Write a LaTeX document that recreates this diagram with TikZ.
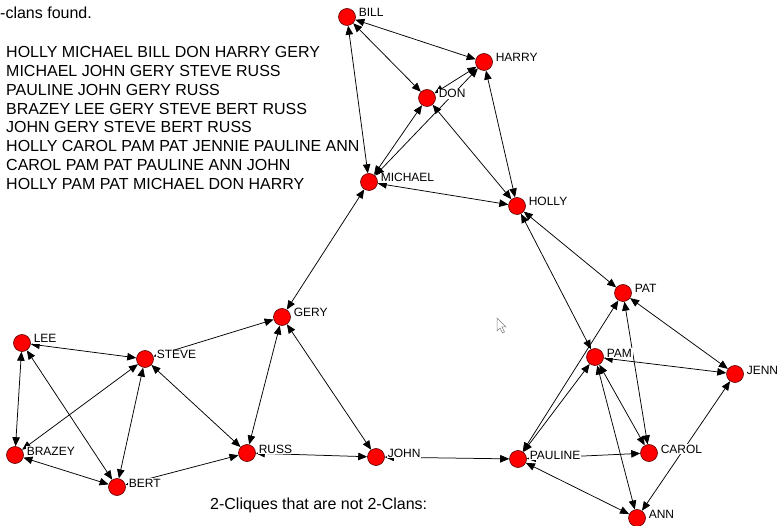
\documentclass[tikz,border=0pt]{standalone}
\usepackage{fontspec}
\setmainfont{Liberation Sans}
\usetikzlibrary{arrows.meta,positioning}
\pgfdeclarelayer{bg}
\pgfsetlayers{bg,main}

\tikzset{
  actor/.style={circle, draw=red!35!black, fill=red, minimum size=17pt, inner sep=0pt, line width=0.6pt},
  lbl/.style={fill=white, inner sep=0.8pt, anchor=base west, xshift=2pt, font=\fontsize{12}{14}\selectfont},
  tie/.style={<->, line width=0.75pt},
  txt/.style={inner sep=0pt, anchor=base west, font=\fontsize{16}{19}\selectfont},
}

\begin{document}
\begin{tikzpicture}[x=1pt, y=-1pt, >={Triangle[length=9pt,width=7.5pt]}]
  \useasboundingbox (0,0) rectangle (784,526);

  % texts
  \node[txt] (found) at (0,18.5) {-clans found.};
  \foreach \line [count=\i] in {HOLLY MICHAEL BILL DON HARRY GERY,
      MICHAEL JOHN GERY STEVE RUSS,
      PAULINE JOHN GERY RUSS,
      BRAZEY LEE GERY STEVE BERT RUSS,
      JOHN GERY STEVE BERT RUSS,
      HOLLY CAROL PAM PAT JENNIE PAULINE ANN,
      CAROL PAM PAT PAULINE ANN JOHN,
      HOLLY PAM PAT MICHAEL DON HARRY}
    \node[txt] (clan\i) at (6,{39+18.8*\i}) {\line};
  \node[txt] (notclans) at (210,509.5) {2-Cliques that are not 2-Clans:};

  % actors
  \node[actor, label={[lbl]0:BILL}] (bill) at (347,17) {};
  \node[actor, label={[lbl]0:HARRY}] (harry) at (484,62) {};
  \node[actor, label={[lbl]0:DON}] (don) at (427,98) {};
  \node[actor, label={[lbl]0:MICHAEL}] (michael) at (369,182) {};
  \node[actor, label={[lbl]0:HOLLY}] (holly) at (517,206) {};
  \node[actor, label={[lbl]0:GERY}] (gery) at (282,317) {};
  \node[actor, label={[lbl]0:LEE}] (lee) at (22,343) {};
  \node[actor, label={[lbl]0:STEVE}] (steve) at (145,359) {};
  \node[actor, label={[lbl]0:BRAZEY}] (brazey) at (15,455) {};
  \node[actor, label={[lbl]0:BERT}] (bert) at (117,487) {};
  \node[actor, label={[lbl]0:RUSS}] (russ) at (247,453) {};
  \node[actor, label={[lbl]0:JOHN}] (john) at (376,457) {};
  \node[actor, label={[lbl]0:PAULINE}] (pauline) at (518,459) {};
  \node[actor, label={[lbl]0:PAT}] (pat) at (623,293) {};
  \node[actor, label={[lbl]0:PAM}] (pam) at (595,357) {};
  \node[actor, label={[lbl]0:JENN}] (jenn) at (735,374) {};
  \node[actor, label={[lbl]0:CAROL}] (carol) at (649,453) {};
  \node[actor, label={[lbl]0:ANN}] (ann) at (637,518) {};

  % ties
  \begin{pgfonlayer}{bg}
  \path[tie]
    (bill) edge (harry)
    (bill) edge (don)
    (bill) edge (michael)
    (don) edge (harry)
    (don) edge (michael)
    (don) edge (holly)
    (harry) edge (michael)
    (harry) edge (holly)
    (michael) edge (holly)
    (michael) edge (gery)
    (holly) edge (pat)
    (holly) edge (pam)
    (lee) edge (steve)
    (lee) edge (brazey)
    (lee) edge (bert)
    (brazey) edge (steve)
    (brazey) edge (bert)
    (steve) edge (bert)
    (steve) edge (russ)
    (steve) edge (gery)
    (bert) edge (russ)
    (gery) edge (russ)
    (gery) edge (john)
    (russ) edge (john)
    (john) edge (pauline)
    (pauline) edge (pat)
    (pauline) edge (pam)
    (pauline) edge (carol)
    (pauline) edge (ann)
    (pat) edge (jenn)
    (pat) edge (carol)
    (pam) edge (jenn)
    (pam) edge (carol)
    (pam) edge (ann)
    (jenn) edge (ann)
    ;
  \end{pgfonlayer}

  % pointer
  \draw[gray, fill=white, line width=0.5pt] (497,318) -- (497,331) -- (500,328) -- (502.5,333)
    -- (504.5,332) -- (502,327) -- (506,327) -- cycle;
\end{tikzpicture}
\end{document}
